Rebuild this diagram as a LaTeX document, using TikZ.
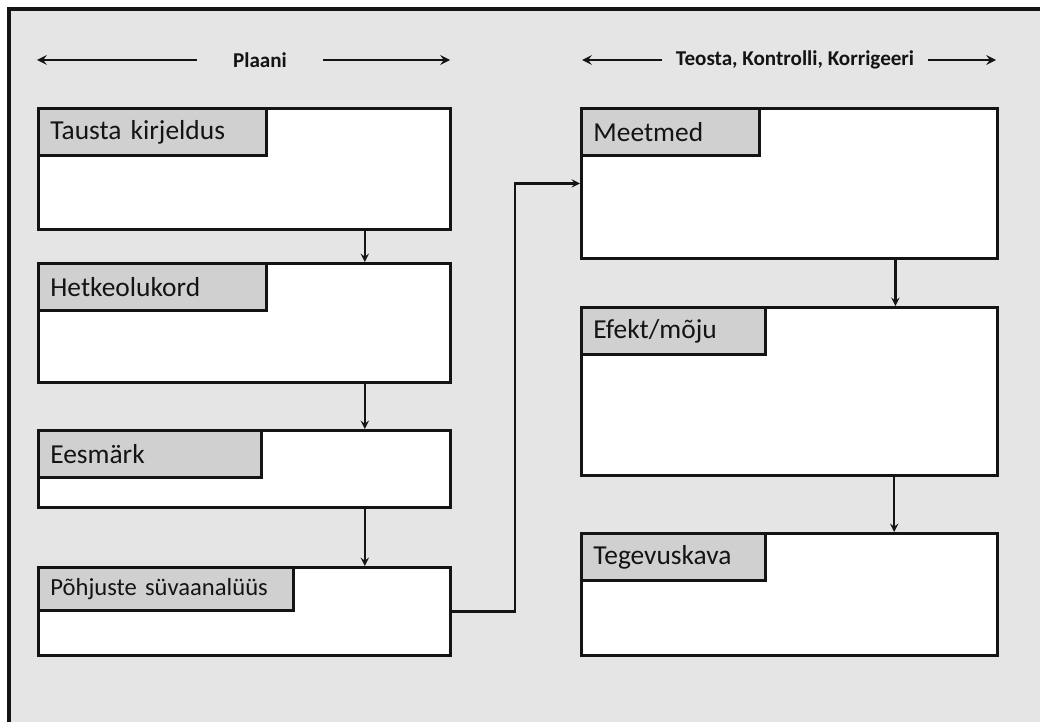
\documentclass[tikz,border=0pt]{standalone}
\usepackage{fontspec}
\setmainfont{Carlito}
\usepackage{xcolor}
\usetikzlibrary{shapes,arrows,positioning,calc}
\definecolor{framebg}{RGB}{229,229,229}
\definecolor{tabgray}{RGB}{208,208,208}
\definecolor{ink}{RGB}{20,20,20}

\begin{document}
\begin{tikzpicture}[
            x=0.025cm, y=-0.025cm,
            box/.style={rectangle, anchor=north west, draw=ink, fill=white, line width=2pt, minimum width=10.3cm, inner sep=0pt},
            rbox/.style={box, minimum width=10.4cm},
            tab/.style={rectangle, anchor=north west, draw=ink, fill=tabgray, line width=2pt, minimum height=1.175cm, inner xsep=0.3cm, inner ysep=0pt, text width=#1, align=left, font=\fontsize{19.5}{22}\selectfont, text=ink},
            head/.style={font=\bfseries\fontsize{15}{18}\selectfont, text=ink, inner ysep=0pt},
            arrow/.style={->, >=stealth, line width=1.6pt, ink},
            headarrow/.style={->, >=stealth, line width=2pt, ink}
        ]
        \useasboundingbox (0,0) rectangle (1040,722);
        \fill[framebg] (9,9) rectangle (1040,722);
        \draw[line width=2.8pt, ink] (9,722) -- (9,9) -- (1040,9);

        % kopp
        \node[head, inner xsep=0.9cm] (plaani) at (260,60) {Plaani};
        \coordinate (plaaniL) at (37,60);
        \coordinate (plaaniR) at (450,60);
        \node[head, inner xsep=0.33cm] (teosta) at (795,60) {Teosta, Kontrolli, Korrigeeri};
        \coordinate (teostaL) at (582,60);
        \coordinate (teostaR) at (996,60);
        \draw[headarrow] (plaani.west) -- (plaaniL);
        \draw[headarrow] (plaani.east) -- (plaaniR);
        \draw[headarrow] (teosta.west) -- (teostaL);
        \draw[headarrow] (teosta.east) -- (teostaR);

        % vasak veerg
        \node[box, minimum height=3.025cm] (tausta) at (37,107) {};
        \node[tab=5.1cm] (taustaT) at (tausta.north west) {Tausta kirjeldus};
        \node[box, minimum height=2.975cm] (hetke) at (37,262) {};
        \node[tab=5.1cm] (hetkeT) at (hetke.north west) {Hetkeolukord};
        \node[box, minimum height=1.925cm] (eesmark) at (37,429) {};
        \node[tab=4.975cm] (eesmarkT) at (eesmark.north west) {Eesmärk};
        \node[box, minimum height=2.2cm] (pohjus) at (37,566) {};
        \node[tab=5.775cm, minimum height=1.075cm, font=\fontsize{17.5}{20}\selectfont] (pohjusT) at (pohjus.north west) {Põhjuste süvaanalüüs};

        % parem veerg
        \node[rbox, minimum height=3.75cm] (meetmed) at (580,107) {};
        \node[tab=3.85cm] (meetmedT) at (meetmed.north west) {Meetmed};
        \node[rbox, minimum height=4.2cm] (efekt) at (580,306) {};
        \node[tab=4.0cm] (efektT) at (efekt.north west) {Efekt/mõju};
        \node[rbox, minimum height=3.05cm] (tegevus) at (580,532) {};
        \node[tab=4.0cm] (tegevusT) at (tegevus.north west) {Tegevuskava};

        \draw[arrow] ($(tausta.south west)!0.79!(tausta.south east)$) -- ($(hetke.north west)!0.79!(hetke.north east)$);
        \draw[arrow] ($(hetke.south west)!0.79!(hetke.south east)$) -- ($(eesmark.north west)!0.79!(eesmark.north east)$);
        \draw[arrow] ($(eesmark.south west)!0.79!(eesmark.south east)$) -- ($(pohjus.north west)!0.79!(pohjus.north east)$);
        \draw[arrow] ($(meetmed.south west)!0.753!(meetmed.south east)$) -- ($(efekt.north west)!0.753!(efekt.north east)$);
        \draw[arrow] ($(efekt.south west)!0.75!(efekt.south east)$) -- ($(tegevus.north west)!0.75!(tegevus.north east)$);

        \coordinate (bend) at (515,400);
        \draw[arrow] (pohjus.east) -- (pohjus.east -| bend) |- (meetmed.west);

        \end{tikzpicture}
\end{document}
